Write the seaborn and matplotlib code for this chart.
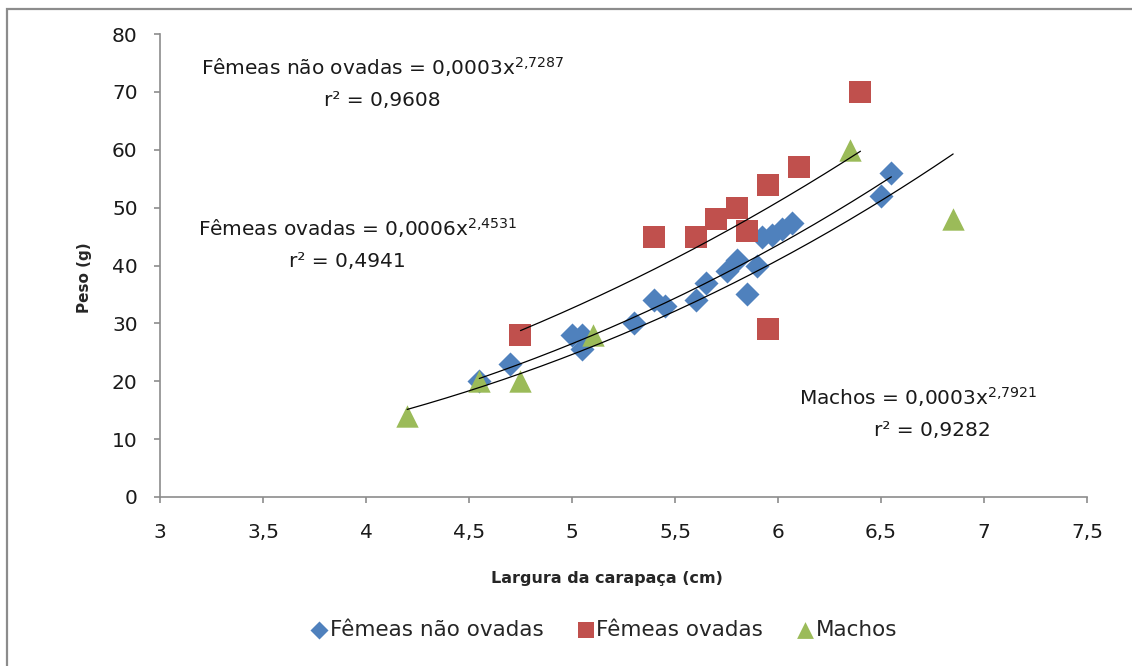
import numpy as np
import pandas as pd
import matplotlib
matplotlib.use("Agg")
import matplotlib.pyplot as plt
import seaborn as sns
from matplotlib.patches import Rectangle
from matplotlib.ticker import FuncFormatter, MultipleLocator

# dados
fno_x = [4.55, 4.7, 5.0, 5.05, 5.05, 5.3, 5.4, 5.45, 5.6, 5.65,
         5.75, 5.8, 5.85, 5.9, 5.92, 5.97, 6.02, 6.07, 6.5, 6.55]
fno_y = [20, 23, 28, 28, 25.5, 30, 34, 33, 34, 37,
         39, 41, 35, 40, 45, 45.3, 46.3, 47.3, 52, 56]

fo_x = [4.75, 5.4, 5.6, 5.7, 5.8, 5.85, 5.95, 5.95, 6.1, 6.4]
fo_y = [28, 45, 45, 48, 50, 46, 54, 29, 57, 70]

m_x = [4.2, 4.55, 4.75, 5.1, 6.35, 6.85]
m_y = [14, 20, 20, 28, 60, 48]

grupos = ["Fêmeas não ovadas", "Fêmeas ovadas", "Machos"]
expoentes = [2.7287, 2.4531, 2.7921]
coeficientes = ["0,0003", "0,0006", "0,0003"]
r2 = ["0,9608", "0,4941", "0,9282"]

cores = ["#4F81BD", "#C0504D", "#9BBB59"]
marcadores = ["D", "s", "^"]
tamanhos = [150, 230, 260]

df = pd.concat([
    pd.DataFrame({"largura": fno_x, "peso": fno_y, "grupo": grupos[0]}),
    pd.DataFrame({"largura": fo_x, "peso": fo_y, "grupo": grupos[1]}),
    pd.DataFrame({"largura": m_x, "peso": m_y, "grupo": grupos[2]}),
], ignore_index=True)

sns.set_style("white")
plt.rcParams["font.family"] = ["DejaVu Sans"]
plt.rcParams["mathtext.fontset"] = "dejavusans"

fig = plt.figure(figsize=(11.32, 6.66), dpi=100)
ax = fig.add_axes([0.1413, 0.2538, 0.819, 0.695])

for nome, cor, mk, s in zip(grupos, cores, marcadores, tamanhos):
    sub = df[df["grupo"] == nome]
    sns.scatterplot(data=sub, x="largura", y="peso", color=cor, marker=mk,
                    s=s, linewidth=0, ax=ax, label=nome, zorder=2)

# linhas de tendência (potência), expoente da equação, coeficiente ajustado
for nome, b in zip(grupos, expoentes):
    sub = df[df["grupo"] == nome]
    x = sub["largura"].to_numpy()
    y = sub["peso"].to_numpy()
    loga = np.mean(np.log(y) - b * np.log(x))
    xx = np.linspace(x.min(), x.max(), 200)
    ax.plot(xx, np.exp(loga) * xx ** b, color="black", lw=0.9, zorder=3)

ax.set_xlim(3, 7.5)
ax.set_ylim(0, 80)
ax.xaxis.set_major_locator(MultipleLocator(0.5))
ax.yaxis.set_major_locator(MultipleLocator(10))
virgula = FuncFormatter(lambda v, p: f"{v:g}".replace(".", ","))
ax.xaxis.set_major_formatter(virgula)
ax.yaxis.set_major_formatter(virgula)
ax.set_xlabel("")
ax.set_ylabel("")

for lado in ["top", "right"]:
    ax.spines[lado].set_visible(False)
for lado in ["left", "bottom"]:
    ax.spines[lado].set_color("#8c8c8c")
    ax.spines[lado].set_linewidth(1.2)
ax.tick_params(bottom=True, left=True, direction="out", length=4, width=1.2,
               color="#8c8c8c", labelsize=14.5, labelcolor="#1a1a1a")
ax.tick_params(axis="x", pad=15)
ax.tick_params(axis="y", pad=12)

# equações
pos = [(4.08, 72.9, 4.08, 67.5), (3.96, 45.2, 3.91, 39.7), (6.68, 16.0, 6.75, 10.6)]
for nome, c, b, r, (x1, y1, x2, y2) in zip(grupos, coeficientes, expoentes, r2, pos):
    exp_txt = f"{b:.4f}".replace(".", "{,}")
    ax.text(x1, y1, f"{nome} = {c}x$^{{{exp_txt}}}$", ha="center", va="baseline",
            fontsize=14.5, color="#1a1a1a")
    ax.text(x2, y2, f"r² = {r}", ha="center", va="baseline",
            fontsize=14.5, color="#1a1a1a")

fig.text(85 / 1132, 0.583, "Peso (g)", rotation=90, ha="center", va="center",
         fontsize=11, fontweight="bold")
fig.text(0.536, 0.132, "Largura da carapaça (cm)", ha="center", va="center",
         fontsize=11.5, fontweight="bold")

handles, labels = ax.get_legend_handles_labels()
ax.get_legend().remove()
fig.legend(handles, labels, loc="center", bbox_to_anchor=(0.534, 0.054), ncol=3,
           frameon=False, fontsize=15.5, markerscale=0.75, handlelength=0.7,
           handletextpad=0.15, columnspacing=1.6)

fig.patches.append(Rectangle((7 / 1132, -0.1), 1.2, 1 - 9 / 666 + 0.1,
                             transform=fig.transFigure, fill=False,
                             edgecolor="#8c8c8c", linewidth=1.6))

fig.savefig("out.png", dpi=100)
